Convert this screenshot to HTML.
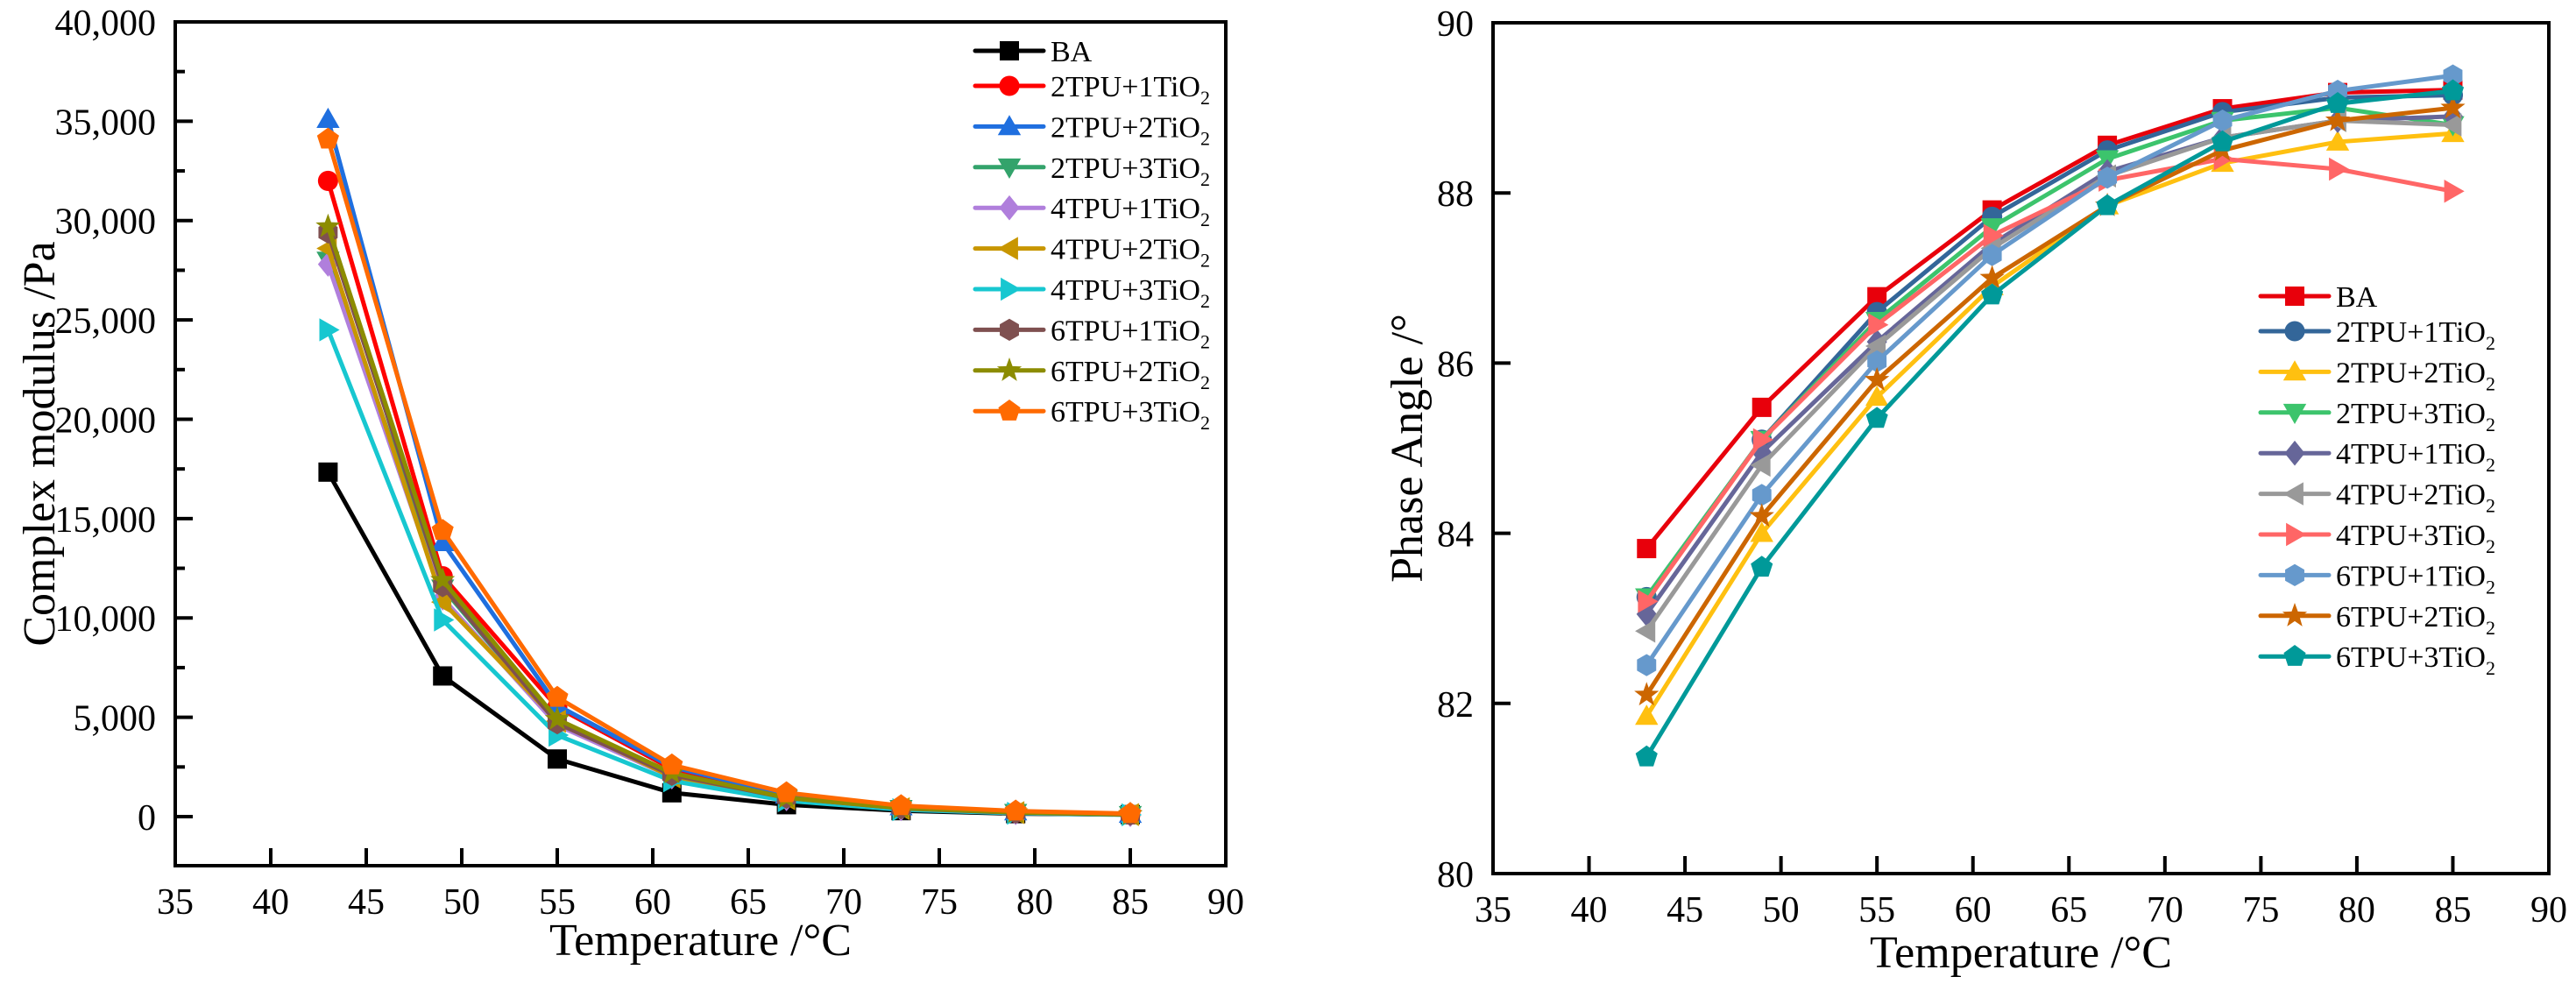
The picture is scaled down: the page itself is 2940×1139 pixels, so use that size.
<!DOCTYPE html>
<html><head><meta charset="utf-8">
<style>
html,body{margin:0;padding:0;background:#fff;}
svg{display:block;font-family:"Liberation Serif",serif;}
svg text{font-family:"Liberation Serif",serif;}
</style></head>
<body>
<svg id="chart" width="2940" height="1139" viewBox="0 0 2940 1139" xmlns="http://www.w3.org/2000/svg" font-family="Liberation Serif, serif"></svg>
<script>
const temps = [43,49,55,61,67,73,79,85];
const names = ["BA","2TPU+1TiO","2TPU+2TiO","2TPU+3TiO","4TPU+1TiO","4TPU+2TiO","4TPU+3TiO","6TPU+1TiO","6TPU+2TiO","6TPU+3TiO"];
const markers = ["square","circle","up","down","diamond","left","right","hexagon","star","pentagon"];
const modBA   = [17340,7080,2900,1200,600,300,150,100];
const mod21   = [32000,12100,5500,2400,1000,450,200,100];
const mod22   = [35100,13800,5600,2500,1100,500,250,120];
const mod23   = [28000,11500,4700,2100,900,400,200,100];
const mod41   = [27800,11000,4600,2000,900,400,200,100];
const mod42   = [28600,10800,4800,2000,900,400,200,100];
const mod43   = [24500,9900,4100,1800,800,350,170,90];
const mod61   = [29400,11600,4700,2100,950,420,200,100];
const mod62   = [29700,11900,4900,2200,950,430,210,110];
const mod63   = [34100,14400,6000,2600,1200,550,280,150];
const phBA = [83.82,85.48,86.78,87.80,88.56,88.99,89.18,89.21];
const ph21 = [83.25,85.10,86.60,87.72,88.50,88.95,89.12,89.15];
const ph22 = [81.85,84.00,85.60,86.90,87.85,88.35,88.60,88.70];
const ph23 = [83.25,85.10,86.50,87.60,88.40,88.85,89.00,88.80];
const ph41 = [83.05,84.95,86.25,87.40,88.25,88.65,88.85,88.90];
const ph42 = [82.85,84.80,86.20,87.35,88.20,88.65,88.85,88.80];
const ph43 = [83.20,85.10,86.45,87.50,88.15,88.40,88.28,88.02];
const ph61 = [82.45,84.45,86.02,87.27,88.18,88.85,89.20,89.38];
const ph62 = [82.10,84.20,85.80,87.00,87.85,88.50,88.85,89.00];
const ph63 = [81.37,83.60,85.35,86.80,87.85,88.60,89.05,89.20];
const xTicks = [35,40,45,50,55,60,65,70,75,80,85,90];
const modTicks = [0,5000,10000,15000,20000,25000,30000,35000,40000];
const phTicks = [80,82,84,86,88,90];

const leftColors = ["#000000","#ff0000","#1f6fdf","#33a36b","#b07fdc","#c89600","#17c7d0","#7f5050","#8c8c00","#ff6a00"];
const rightColors = ["#e8000b","#336699","#ffc010","#3cc46c","#666699","#999999","#ff6666","#6699cc","#cc6600","#009999"];

const NS = "http://www.w3.org/2000/svg";
const svg = document.getElementById("chart");
function mk(tag, attrs, parent){const e=document.createElementNS(NS,tag);for(const k in attrs)e.setAttribute(k,attrs[k]);if(tag==="text")e.setAttribute("font-family","Liberation Serif, serif");(parent||svg).appendChild(e);return e;}

function markerShape(type, cx, cy, s, color, parent){
  const r=s/2; let e;
  const poly=(pts)=>mk("polygon",{points:pts.map(p=>p.join(",")).join(" "),fill:color},parent);
  if(type==="square") e=mk("rect",{x:cx-r,y:cy-r,width:s,height:s,fill:color},parent);
  else if(type==="circle") e=mk("circle",{cx:cx,cy:cy,r:r*1.05,fill:color},parent);
  else if(type==="up") e=poly([[cx,cy-r*1.2],[cx+r*1.2,cy+r*0.9],[cx-r*1.2,cy+r*0.9]]);
  else if(type==="down") e=poly([[cx,cy+r*1.2],[cx+r*1.2,cy-r*0.9],[cx-r*1.2,cy-r*0.9]]);
  else if(type==="left") e=poly([[cx-r*1.2,cy],[cx+r*0.9,cy-r*1.2],[cx+r*0.9,cy+r*1.2]]);
  else if(type==="right") e=poly([[cx+r*1.2,cy],[cx-r*0.9,cy-r*1.2],[cx-r*0.9,cy+r*1.2]]);
  else if(type==="diamond") e=poly([[cx,cy-r*1.3],[cx+r*1.05,cy],[cx,cy+r*1.3],[cx-r*1.05,cy]]);
  else if(type==="hexagon"){const p=[];for(let i=0;i<6;i++){const a=Math.PI/6+i*Math.PI/3;p.push([cx+r*1.15*Math.cos(a),cy+r*1.15*Math.sin(a)]);}e=poly(p);}
  else if(type==="pentagon"){const p=[];for(let i=0;i<5;i++){const a=-Math.PI/2+i*2*Math.PI/5;p.push([cx+r*1.2*Math.cos(a),cy+r*1.2*Math.sin(a)]);}e=poly(p);}
  else if(type==="star"){const p=[];for(let i=0;i<10;i++){const a=-Math.PI/2+i*Math.PI/5;const rr=i%2?r*0.55:r*1.35;p.push([cx+rr*Math.cos(a),cy+rr*Math.sin(a)]);}e=poly(p);}
  return e;
}

function drawPanel(cfg){
  const g = mk("g",{});
  
  
  const X = v => cfg.x0 + (v - 35) / 55 * (cfg.x1 - cfg.x0);
  const Y = v => cfg.yb - (v - cfg.ymin) / (cfg.ymax - cfg.ymin) * (cfg.yb - cfg.yt);
  cfg.series.forEach((vals, si) => {
    const sg = mk("g",{},g);
    
    
    const pts = temps.map((t,i)=>X(t)+","+Y(vals[i])).join(" ");
    mk("polyline",{points:pts,fill:"none",stroke:cfg.colors[si],"stroke-width":5,"stroke-linejoin":"round"},sg);
    temps.forEach((t,i)=>{
      const m = markerShape(markers[si], X(t), Y(vals[i]), 22, cfg.colors[si], sg);
      
      
    });
  });
  const fr = mk("rect",{x:cfg.x0,y:cfg.yt,width:cfg.x1-cfg.x0,height:cfg.yb-cfg.yt,fill:"none",stroke:"#000","stroke-width":4},g);
  
  
  xTicks.forEach(t=>{
    const x=X(t);
    if(t>35&&t<90) mk("line",{x1:x,x2:x,y1:cfg.yb,y2:cfg.yb-20,stroke:"#000","stroke-width":4},g);
    const tx = mk("text",{x:x,y:cfg.yb+55,"font-size":42,"text-anchor":"middle"},g);
    tx.textContent=t;
    
    
  });
  cfg.yTicks.forEach(t=>{
    const y=Y(t);
    if(t>cfg.ymin&&t<cfg.ymax) mk("line",{x1:cfg.x0,x2:cfg.x0+20,y1:y,y2:y,stroke:"#000","stroke-width":4},g);
    const tx = mk("text",{x:cfg.x0-22,y:y+15,"font-size":42,"text-anchor":"end"},g);
    tx.textContent=cfg.fmt(t);
    
    
  });
  (cfg.minor||[]).forEach(t=>{
    const y=Y(t);
    mk("line",{x1:cfg.x0,x2:cfg.x0+11,y1:y,y2:y,stroke:"#000","stroke-width":4},g);
  });
  const xt = mk("text",{x:(cfg.x0+cfg.x1)/2,y:cfg.xtY,"font-size":52,"text-anchor":"middle"},g);
  xt.textContent="Temperature /°C";
  
  
  const yt = mk("text",{x:0,y:0,"font-size":52,"text-anchor":"middle",transform:`translate(${cfg.ytX},${(cfg.yt+cfg.yb)/2}) rotate(-90)`},g);
  yt.textContent=cfg.ytitle;
  
  
  const lg = mk("g",{},g);
  
  
  names.forEach((n,i)=>{
    const y = cfg.lgY + (i===0?0:40+(i-1)*46.4);
    const eg = mk("g",{},lg);
    
    
    mk("line",{x1:cfg.lgX,x2:cfg.lgX+78,y1:y,y2:y,stroke:cfg.colors[i],"stroke-width":5,"stroke-linecap":"round"},eg);
    markerShape(markers[i], cfg.lgX+39, y, 22, cfg.colors[i], eg);
    const tx = mk("text",{x:cfg.lgX+86,y:y+12,"font-size":34},eg);
    tx.textContent=n;
    if(i>0){const s=mk("tspan",{"font-size":22,dy:9},tx);s.textContent="2";}
  });
}

drawPanel({name:"complex-modulus-chart",x0:200,x1:1399,yt:25,yb:988,ymin:-2470,ymax:40000,
  series:[modBA,mod21,mod22,mod23,mod41,mod42,mod43,mod61,mod62,mod63],colors:leftColors,
  yTicks:modTicks,minor:[2500,7500,12500,17500,22500,27500,32500,37500],fmt:v=>v.toLocaleString("en-US"),
  ytitle:"Complex modulus /Pa",ytX:62,xtY:1090,lgX:1113,lgY:58});
drawPanel({name:"phase-angle-chart",x0:1704,x1:2909,yt:26,yb:997,ymin:80,ymax:90,
  series:[phBA,ph21,ph22,ph23,ph41,ph42,ph43,ph61,ph62,ph63],colors:rightColors,
  yTicks:phTicks,minor:[],fmt:v=>v,
  ytitle:"Phase Angle /°",ytX:1623,xtY:1104,lgX:2580,lgY:338});
</script>
</body></html>
